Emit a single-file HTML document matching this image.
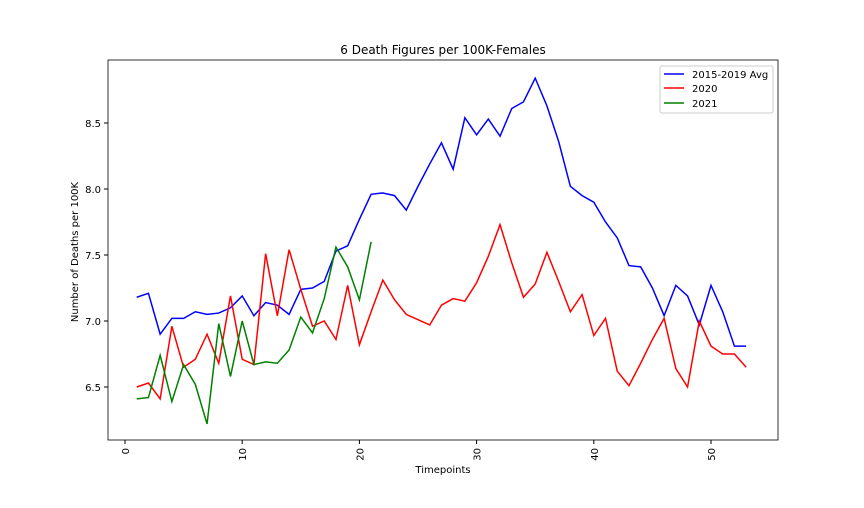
<!DOCTYPE html>
<html><head><meta charset="utf-8"><style>
body{margin:0;background:#fff;font-family:"DejaVu Sans",sans-serif}
text{font-family:"DejaVu Sans",sans-serif;fill:#000}
</style></head><body>
<svg id="c" width="864" height="504" xmlns="http://www.w3.org/2000/svg">
<rect x="0" y="0" width="864" height="504" fill="#fff"/>
<text x="443" y="54" font-size="12" text-anchor="middle">6 Death Figures per 100K-Females</text>
<text x="443" y="473" font-size="10" text-anchor="middle">Timepoints</text>
<text x="78" y="252" font-size="10" text-anchor="middle" transform="rotate(-90 78 252)">Number of Deaths per 100K</text>
<g id="marks"></g>
<rect x="108" y="60" width="670" height="380" fill="none" stroke="#000" stroke-width="0.8"/>
<g>
<rect x="660" y="66" width="113" height="47" fill="#fff" stroke="#ccc" rx="2"/>
<line x1="664" y1="74" x2="684" y2="74" stroke="blue" stroke-width="1.5"/><text x="692" y="78" font-size="10">2015-2019 Avg</text>
<line x1="664" y1="88" x2="684" y2="88" stroke="red" stroke-width="1.5"/><text x="692" y="92" font-size="10">2020</text>
<line x1="664" y1="103" x2="684" y2="103" stroke="green" stroke-width="1.5"/><text x="692" y="107" font-size="10">2021</text>
</g>
</svg>
<script>
const avgValues=[7.18,7.21,6.90,7.02,7.02,7.07,7.05,7.06,7.10,7.19,7.04,7.14,7.12,7.05,7.24,7.25,7.30,7.53,7.57,7.77,7.96,7.97,7.95,7.84,8.02,8.19,8.35,8.15,8.54,8.41,8.53,8.40,8.61,8.66,8.84,8.63,8.36,8.02,7.95,7.90,7.75,7.63,7.42,7.41,7.25,7.04,7.27,7.19,6.97,7.27,7.07,6.81,6.81];
const values2020=[6.50,6.53,6.41,6.96,6.65,6.71,6.90,6.68,7.19,6.71,6.67,7.51,7.04,7.54,7.24,6.96,7.00,6.86,7.27,6.82,7.07,7.31,7.16,7.05,7.01,6.97,7.12,7.17,7.15,7.29,7.49,7.73,7.44,7.18,7.28,7.52,7.30,7.07,7.20,6.89,7.02,6.62,6.51,6.68,6.86,7.02,6.64,6.50,7.00,6.81,6.75,6.75,6.65];
const values2021=[6.41,6.42,6.74,6.39,6.67,6.52,6.22,6.98,6.58,7.00,6.67,6.69,6.68,6.78,7.03,6.91,7.17,7.56,7.41,7.16,7.60];
const xTicks=[0,10,20,30,40,50];
const yTicks=[6.5,7.0,7.5,8.0,8.5];
const NS='http://www.w3.org/2000/svg';
const xs=v=>125+v*11.72;
const ys=v=>321-(v-7)*132;
const g=document.getElementById('marks');
function mk(t,a){const e=document.createElementNS(NS,t);for(const k in a)e.setAttribute(k,a[k]);return e;}
xTicks.forEach(t=>{
 const l=mk('line',{x1:xs(t),x2:xs(t),y1:440,y2:444,stroke:'#000'});
 
 
 g.appendChild(l);
 const tx=mk('text',{x:xs(t)+4,y:448,'font-size':10,'text-anchor':'end',transform:`rotate(-90 ${xs(t)+4} 448)`});
 tx.textContent=t;
 
 
 g.appendChild(tx);
});
yTicks.forEach(t=>{
 const l=mk('line',{x1:104,x2:108,y1:ys(t),y2:ys(t),stroke:'#000'});
 
 
 g.appendChild(l);
 const tx=mk('text',{x:101,y:ys(t)+4,'font-size':10,'text-anchor':'end'});
 tx.textContent=t.toFixed(1);
 
 
 g.appendChild(tx);
});
function line(vals,color,name){
 const p=mk('polyline',{points:vals.map((v,i)=>xs(i+1)+','+ys(v)).join(' '),fill:'none',stroke:color,'stroke-width':1.5});
 
 
 g.appendChild(p);
}
line(avgValues,'blue','line-2015-2019-avg');
line(values2020,'red','line-2020');
line(values2021,'green','line-2021');
</script>
</body></html>
